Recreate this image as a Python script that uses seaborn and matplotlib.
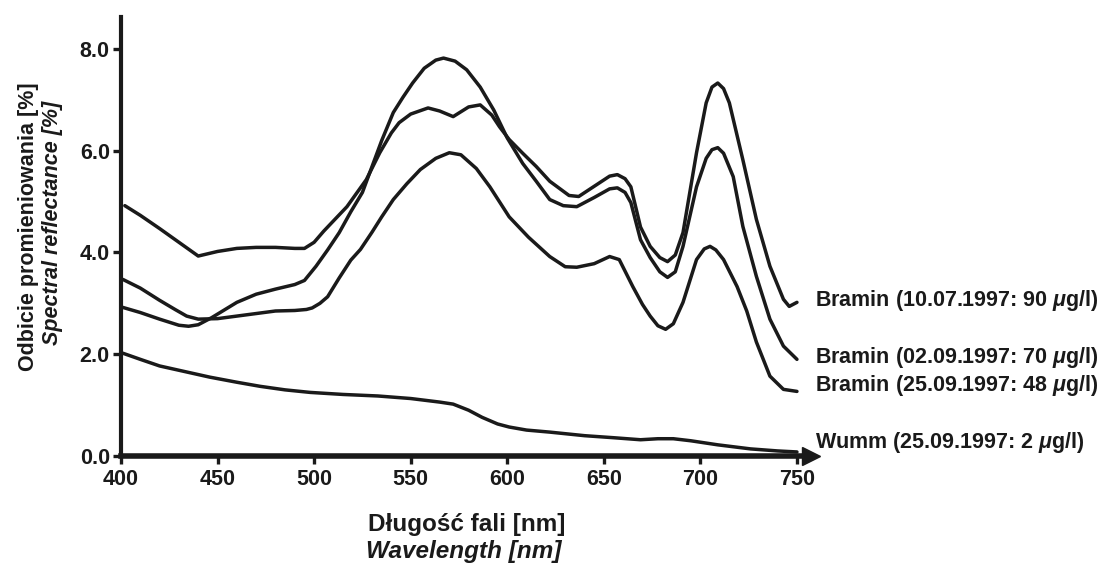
import numpy as np
import pandas as pd
import matplotlib
matplotlib.use("Agg")
import matplotlib.pyplot as plt
import seaborn as sns

# ---- data (wavelength nm, reflectance %) ----
wl_b90 = [402, 410, 420, 430, 440, 450, 460, 470, 480, 490, 495, 500, 505, 510,
          517, 527, 534, 540, 544, 550, 559, 565, 572, 580, 586, 592, 596, 601,
          608, 615, 622, 632, 637, 645, 653, 657, 661, 664, 669, 674, 679, 683,
          687, 691, 698, 703, 706, 709, 712, 715, 722, 729, 736, 743, 746, 750]
r_b90 = [4.92, 4.73, 4.47, 4.20, 3.93, 4.02, 4.08, 4.10, 4.10, 4.08, 4.08, 4.20,
         4.42, 4.62, 4.90, 5.43, 5.96, 6.35, 6.55, 6.72, 6.84, 6.78, 6.67, 6.86,
         6.90, 6.70, 6.47, 6.22, 5.95, 5.69, 5.40, 5.12, 5.10, 5.30, 5.50, 5.53,
         5.45, 5.29, 4.50, 4.12, 3.90, 3.82, 3.95, 4.39, 5.96, 6.94, 7.25, 7.33,
         7.22, 6.94, 5.82, 4.65, 3.73, 3.08, 2.94, 3.02]

wl_b70 = [401, 410, 420, 430, 435, 440, 447, 460, 470, 480, 490, 495, 501, 507,
          513, 519, 525, 530, 535, 541, 546, 551, 557, 563, 567, 573, 579, 586,
          593, 600, 608, 615, 622, 629, 636, 645, 653, 657, 661, 664, 669, 674,
          679, 683, 687, 691, 698, 703, 706, 709, 712, 717, 722, 729, 736, 743, 750]
r_b70 = [2.92, 2.82, 2.69, 2.57, 2.55, 2.58, 2.72, 3.02, 3.18, 3.28, 3.37, 3.45,
         3.73, 4.05, 4.39, 4.80, 5.18, 5.69, 6.20, 6.75, 7.05, 7.33, 7.62, 7.78,
         7.82, 7.76, 7.59, 7.25, 6.80, 6.25, 5.75, 5.40, 5.04, 4.92, 4.90, 5.08,
         5.25, 5.27, 5.18, 4.98, 4.25, 3.90, 3.62, 3.51, 3.62, 4.12, 5.29, 5.85,
         6.02, 6.06, 5.95, 5.49, 4.51, 3.53, 2.69, 2.16, 1.90]

wl_b48 = [401, 410, 420, 428, 434, 440, 450, 460, 470, 480, 490, 496, 499, 503,
          507, 513, 519, 524, 530, 535, 541, 548, 555, 563, 570, 576, 584, 591,
          601, 611, 622, 630, 636, 645, 653, 658, 665, 670, 674, 678, 682, 686,
          691, 698, 702, 705, 708, 712, 719, 724, 729, 736, 743, 750]
r_b48 = [3.47, 3.30, 3.06, 2.88, 2.75, 2.69, 2.70, 2.75, 2.80, 2.85, 2.86, 2.88,
         2.91, 3.00, 3.13, 3.50, 3.85, 4.06, 4.40, 4.70, 5.04, 5.35, 5.63, 5.85,
         5.96, 5.92, 5.65, 5.29, 4.70, 4.30, 3.92, 3.72, 3.71, 3.78, 3.92, 3.86,
         3.33, 2.98, 2.75, 2.56, 2.49, 2.60, 3.02, 3.86, 4.07, 4.12, 4.05, 3.86,
         3.33, 2.85, 2.24, 1.57, 1.31, 1.27]

wl_wumm = [401, 410, 420, 433, 446, 460, 472, 485, 498, 515, 533, 550, 565, 572,
           580, 587, 595, 601, 610, 622, 640, 655, 669, 678, 686, 695, 709, 726,
           740, 750]
r_wumm = [2.02, 1.90, 1.77, 1.66, 1.55, 1.45, 1.37, 1.30, 1.25, 1.21, 1.18, 1.13,
          1.06, 1.02, 0.90, 0.76, 0.63, 0.57, 0.51, 0.47, 0.40, 0.36, 0.32, 0.34,
          0.34, 0.30, 0.22, 0.14, 0.10, 0.08]

labels = [r"Bramin (10.07.1997: 90 $\mu$g/l)",
          r"Bramin (02.09.1997: 70 $\mu$g/l)",
          r"Bramin (25.09.1997: 48 $\mu$g/l)",
          r"Wumm (25.09.1997: 2 $\mu$g/l)"]
label_y = [3.06, 1.93, 1.39, 0.26]

x_ticks = [400, 450, 500, 550, 600, 650, 700, 750]
y_ticks = [0, 2, 4, 6, 8]

# ---- style ----
sns.set_style("ticks")
plt.rcParams["font.family"] = ["Liberation Sans", "DejaVu Sans"]
plt.rcParams["font.weight"] = "bold"
plt.rcParams["mathtext.fontset"] = "custom"
plt.rcParams["mathtext.rm"] = "Liberation Sans:bold"
plt.rcParams["mathtext.it"] = "Liberation Sans:italic:bold"
plt.rcParams["lines.solid_joinstyle"] = "round"
plt.rcParams["lines.solid_capstyle"] = "round"
INK = "#1a1a1a"

series = [(wl_b90, r_b90, labels[0]), (wl_b70, r_b70, labels[1]),
          (wl_b48, r_b48, labels[2]), (wl_wumm, r_wumm, labels[3])]
df = pd.concat([pd.DataFrame({"wl": w, "r": r, "s": name}) for w, r, name in series],
               ignore_index=True)

fig = plt.figure(figsize=(11.15, 5.66), dpi=100)
ax = fig.add_axes([0.1085, 0.1943, 0.6189, 0.7750])

sns.lineplot(data=df, x="wl", y="r", hue="s", palette=[INK] * 4,
             estimator=None, sort=False, linewidth=2.5, legend=False, ax=ax)

ax.set_xlim(400, 757.3)
ax.set_ylim(0, 8.62)
ax.set_xticks(x_ticks)
ax.set_yticks(y_ticks)
ax.set_yticklabels([f"{v:.1f}" for v in y_ticks])
ax.tick_params(axis="both", length=6, width=2.4, labelsize=15.5, color=INK,
               labelcolor=INK)
ax.tick_params(axis="x", pad=3)
ax.tick_params(axis="y", pad=2)
for lbl in ax.get_xticklabels() + ax.get_yticklabels():
    lbl.set_fontweight("bold")
ax.set_xlabel("")
ax.set_ylabel("")

sns.despine(ax=ax)
ax.spines["left"].set_linewidth(3)
ax.spines["bottom"].set_linewidth(4)
ax.spines["left"].set_color(INK)
ax.spines["bottom"].set_color(INK)

# arrow heads on axes
ax.plot(1, 0, ">", color=INK, markersize=13,
        transform=ax.get_yaxis_transform(), clip_on=False)
ax.plot(0, 1, "^", color=INK, markersize=13,
        transform=ax.get_xaxis_transform(), clip_on=False)

# series labels
for txt, yv in zip(labels, label_y):
    ax.text(759.5, yv, txt, fontsize=15.5, fontweight="bold", va="center",
            ha="left", color=INK, clip_on=False)

# axis titles (two languages)
fig.text(0.419, 0.074, "Długość fali [nm]", fontsize=17.5, fontweight="bold",
         ha="center", va="center", color=INK)
fig.text(0.416, 0.026, "Wavelength [nm]", fontsize=17.5, fontweight="bold",
         style="italic", ha="center", va="center", color=INK)
fig.text(0.026, 0.600, "Odbicie promieniowania [%]", fontsize=15.5,
         fontweight="bold", rotation=90, ha="center", va="center", color=INK)
fig.text(0.047, 0.607, "Spectral reflectance [%]", fontsize=15.5,
         fontweight="bold", style="italic", rotation=90, ha="center",
         va="center", color=INK)

fig.savefig("out.png", dpi=100)
